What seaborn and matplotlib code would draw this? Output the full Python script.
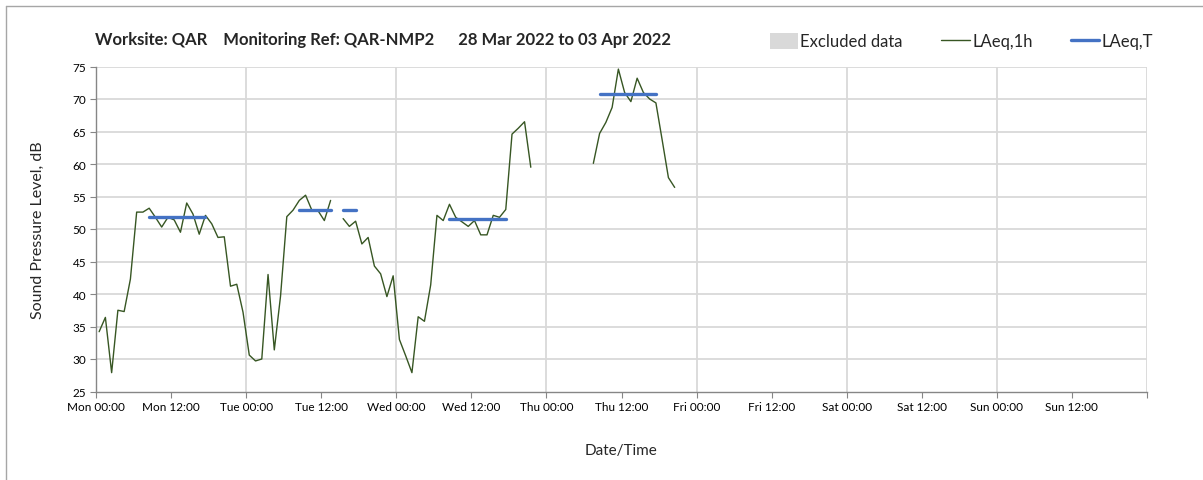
import numpy as np
import pandas as pd
import matplotlib
matplotlib.use("Agg")
import matplotlib.pyplot as plt
from matplotlib.patches import Patch
from matplotlib.lines import Line2D
import seaborn as sns

NaN = np.nan

# Hourly LAeq,1h (dB), one list per day, hour 00 first; NaN = no data
mon = [34.2, 36.4, 27.9, 37.5, 37.3, 42.3, 52.6, 52.6, 53.2, 51.8, 50.3, 51.8,
       51.4, 49.5, 54.0, 52.3, 49.2, 52.1, 50.8, 48.7, 48.8, 41.2, 41.5, 37.2]
tue = [30.6, 29.7, 30.0, 43.0, 31.4, 39.7, 51.9, 52.9, 54.4, 55.2, 52.9, 52.8,
       51.3, 54.4, NaN, 51.6, 50.4, 51.2, 47.7, 48.7, 44.3, 43.1, 39.6, 42.8]
wed = [33.0, 30.5, 27.9, 36.5, 35.8, 41.4, 52.1, 51.3, 53.8, 51.8, 51.1, 50.4,
       51.3, 49.1, 49.1, 52.1, 51.8, 53.0, 64.6, 65.5, 66.5, 59.5, NaN, NaN]
thu = [NaN, NaN, NaN, NaN, NaN, NaN, NaN, 60.1, 64.7, 66.4, 68.7, 74.6,
       71.0, 69.6, 73.2, 71.0, 70.0, 69.4, 63.7, 57.9, 56.4, NaN, NaN, NaN]
fri = [NaN] * 24
sat = [NaN] * 24
sun = [NaN] * 24

# Daytime LAeq,T (08:00-18:00) per day
days = ["Mon", "Tue", "Wed", "Thu", "Fri", "Sat", "Sun"]
laeq_t = [51.8, 53.0, 51.6, 70.7, NaN, NaN, NaN]
day_start, day_end = 8, 18

title = "Worksite: QAR    Monitoring Ref: QAR-NMP2      28 Mar 2022 to 03 Apr 2022"

GREEN = "#375623"
BLUE = "#4472C4"
GRID = "#d9d9d9"
SPINE = "#868686"

# ---- assemble long tables ----
hourly = mon + tue + wed + thu + fri + sat + sun
df = pd.DataFrame({"level": hourly})
df["hour"] = np.arange(len(df)) + 0.5
df["day"] = np.repeat(days, 24)
df["hod"] = np.tile(np.arange(24), 7)
valid = df["level"].notna()
df["run"] = (valid != valid.shift()).cumsum()
h1 = df[valid].copy()

# LAeq,T drawn across the daytime hours that have data, broken at gaps
tdf = df[valid & (df["hod"] >= day_start) & (df["hod"] < day_end)].copy()
tdf["laeq_t"] = tdf["day"].map(dict(zip(days, laeq_t)))
tdf = tdf[tdf["laeq_t"].notna()].copy()
tdf["seg"] = (tdf["hour"].diff() != 1).cumsum()

sns.set_theme(style="white")
plt.rcParams["font.family"] = ["Lato", "DejaVu Sans"]

fig = plt.figure(figsize=(12.03, 4.81), dpi=100)
W, H = 1203, 481
x0, x1, ytop, ybot = 96, 1147, 67.5, 392.5
ax = fig.add_axes([x0 / W, 1 - ybot / H, (x1 - x0) / W, (ybot - ytop) / H])

sns.lineplot(data=h1, x="hour", y="level", units="run", estimator=None,
             color=GREEN, linewidth=1.0, ax=ax, legend=False)
sns.lineplot(data=tdf, x="hour", y="laeq_t", units="seg", estimator=None,
             color=BLUE, linewidth=2.4, ax=ax, legend=False)

ax.set_xlim(0, 168)
ax.set_ylim(25, 75)
ax.set_yticks(np.arange(25, 76, 5))
ax.set_xticks(np.arange(0, 169, 12))
labels = [f"{d} {hh}" for d in days for hh in ("00:00", "12:00")] + [""]
ax.set_xticklabels(labels)
ax.tick_params(axis="both", labelsize=8.5, colors="#000000", length=4,
               width=0.8, direction="out", color=SPINE, pad=3)
ax.tick_params(axis="both", bottom=True, left=True)

ax.grid(False)
for y in np.arange(30, 76, 5):
    ax.axhline(y, color=GRID, lw=1.3, zorder=0)
for x in np.arange(24, 169, 24):
    ax.axvline(x, color=GRID, lw=1.3, zorder=0)

for s in ("top", "right"):
    ax.spines[s].set_visible(False)
for s in ("left", "bottom"):
    ax.spines[s].set_color(SPINE)
    ax.spines[s].set_linewidth(1.0)

ax.set_xlabel("Date/Time", fontsize=11, labelpad=22)
ax.set_ylabel("Sound Pressure Level, dB", fontsize=11.5, labelpad=20)

fig.text(95 / W, 1 - 40 / H, title, fontsize=12, fontweight="bold",
         va="center", ha="left")

handles = [Patch(facecolor=GRID, edgecolor="none"),
           Line2D([], [], color=GREEN, lw=1.0),
           Line2D([], [], color=BLUE, lw=2.4)]
fig.legend(handles, ["Excluded data", "LAeq,1h", "LAeq,T"], ncol=3,
           loc="center right", bbox_to_anchor=(1160 / W, 1 - 42 / H),
           frameon=False, fontsize=12, handlelength=1.7, handleheight=1.1,
           handletextpad=0.15, columnspacing=2.3, borderaxespad=0)

# chart-area border (top and left edges visible)
fig.add_artist(Line2D([6 / W, 1], [1 - 7 / H, 1 - 7 / H], color="#a6a6a6",
                      lw=1.0, transform=fig.transFigure))
fig.add_artist(Line2D([6 / W, 6 / W], [0, 1 - 7 / H], color="#a6a6a6",
                      lw=1.0, transform=fig.transFigure))

fig.savefig("out.png", dpi=100, facecolor="white")
